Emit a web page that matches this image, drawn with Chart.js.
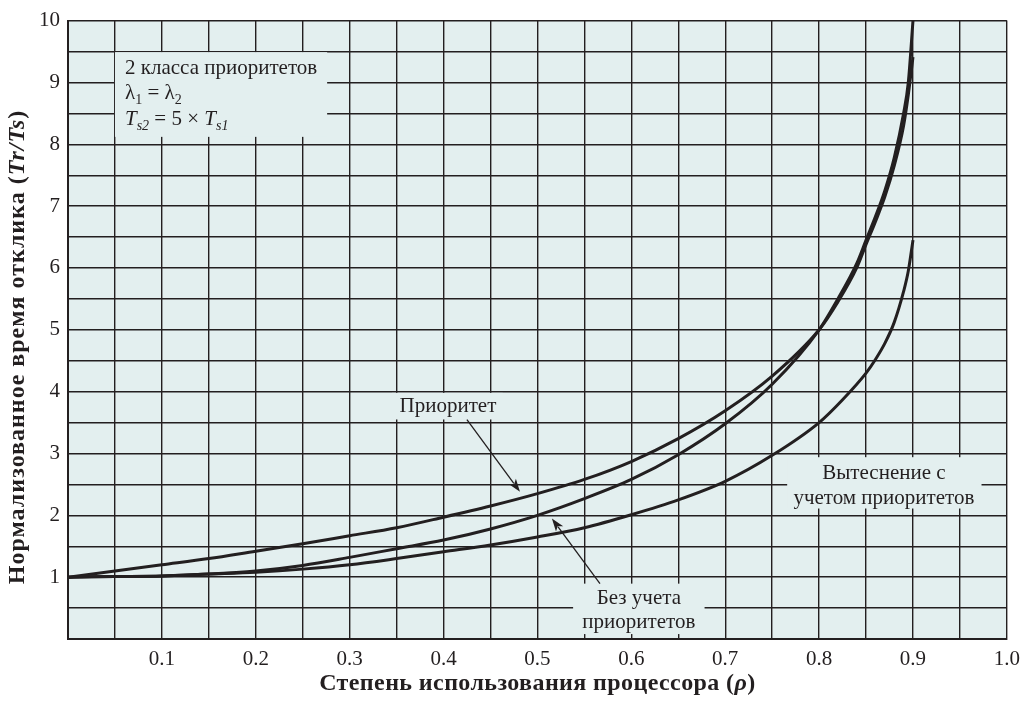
<!DOCTYPE html>
<html><head><meta charset="utf-8">
<script src="https://cdn.jsdelivr.net/npm/chart.js@4/dist/chart.umd.min.js"></script>
<style>html,body{margin:0;padding:0;background:#fff}#wrap{width:1028px;height:703px}</style>
</head><body><div id="wrap"><canvas id="c" width="1028" height="703"></canvas></div>
<script>
// Utilisation (rho) and normalised response time Tr/Ts
const priorityRho = [0,0.05,0.1,0.15,0.2,0.25,0.3,0.35,0.4,0.45,0.5,0.55,0.6,0.65,0.7,0.75,0.8,0.82,0.84,0.85,0.86,0.87,0.88,0.89,0.895,0.9];
const priorityVal = [1,1.10,1.20,1.30,1.42,1.54,1.67,1.80,1.97,2.15,2.35,2.58,2.87,3.24,3.69,4.25,5.0,5.45,6.0,6.38,6.75,7.15,7.65,8.3,8.8,9.41];
const noPriorityRho = [0,0.05,0.1,0.15,0.2,0.25,0.3,0.35,0.4,0.45,0.5,0.55,0.6,0.65,0.7,0.75,0.8,0.82,0.84,0.85,0.86,0.87,0.88,0.89,0.895,0.9];
const noPriorityVal = [1,1.01,1.02,1.05,1.10,1.19,1.32,1.46,1.60,1.78,2.0,2.27,2.58,2.98,3.48,4.12,5.0,5.5,6.07,6.45,6.83,7.25,7.78,8.5,9.0,10];
const preemptRho = [0,0.05,0.1,0.15,0.2,0.25,0.3,0.35,0.4,0.45,0.5,0.55,0.6,0.65,0.7,0.75,0.8,0.825,0.85,0.86,0.87,0.88,0.89,0.895,0.9];
const preemptVal = [1,1.01,1.02,1.05,1.08,1.13,1.20,1.30,1.41,1.52,1.65,1.80,2.01,2.25,2.55,2.97,3.5,3.87,4.3,4.52,4.78,5.12,5.62,5.95,6.45];
const xTickLabels = ['0.1','0.2','0.3','0.4','0.5','0.6','0.7','0.8','0.9','1.0'];
const yTickLabels = ['1','2','3','4','5','6','7','8','9','10'];

const INK = '#231f20';
const BG = '#e3efef';
const SERIF = '"Liberation Serif", "Times New Roman", serif';

function pts(xs, ys){ return xs.map((x,i)=>({x:x, y:ys[i]})); }
function ds(label, xs, ys){
  return {label, data: pts(xs, ys), showLine:true, borderColor:INK, borderWidth:3,
    pointRadius:0, fill:false, cubicInterpolationMode:'monotone', borderCapStyle:'butt'};
}

function richWidth(ctx, segs){
  let w=0; for(const s of segs){ ctx.font=s.f; w+=ctx.measureText(s.t).width; } return w;
}
function drawRich(ctx, segs, x, y, align){
  let w = richWidth(ctx, segs);
  let cx = align==='center' ? x - w/2 : x;
  for(const s of segs){ ctx.font=s.f; ctx.fillText(s.t, cx, y + (s.dy||0)); cx += ctx.measureText(s.t).width; }
}
function arrow(ctx, x0,y0,x1,y1){
  const a = Math.atan2(y1-y0, x1-x0), L=13, W=4.5;
  ctx.save(); ctx.strokeStyle=INK; ctx.fillStyle=INK; ctx.lineWidth=1.3;
  ctx.beginPath(); ctx.moveTo(x0,y0); ctx.lineTo(x1 - Math.cos(a)*L*0.8, y1 - Math.sin(a)*L*0.8); ctx.stroke();
  ctx.beginPath(); ctx.moveTo(x1,y1);
  ctx.lineTo(x1 - Math.cos(a)*L - Math.sin(a)*W, y1 - Math.sin(a)*L + Math.cos(a)*W);
  ctx.lineTo(x1 - Math.cos(a)*L*0.75, y1 - Math.sin(a)*L*0.75);
  ctx.lineTo(x1 - Math.cos(a)*L + Math.sin(a)*W, y1 - Math.sin(a)*L - Math.cos(a)*W);
  ctx.closePath(); ctx.fill(); ctx.restore();
}

// label boxes in data units
const boxes = [
  {x0:0.050, x1:0.276, y0:9.49, y1:8.12},
  {x0:0.345, x1:0.463, y0:3.98, y1:3.55},
  {x0:0.538, x1:0.678, y0:0.895, y1:0.08},
  {x0:0.766, x1:0.973, y0:2.94, y1:2.11}
];

const plugin = {
  id:'deco',
  beforeDraw(chart){
    const {ctx, chartArea:a} = chart;
    ctx.save(); ctx.fillStyle=BG; ctx.fillRect(a.left, a.top, a.right-a.left, a.bottom-a.top); ctx.restore();
  },
  beforeDatasetsDraw(chart){
    const {ctx} = chart, xs=chart.scales.x, ys=chart.scales.y;
    ctx.save(); ctx.fillStyle=BG;
    for(const b of boxes){
      const l=xs.getPixelForValue(b.x0), r=xs.getPixelForValue(b.x1);
      const t=ys.getPixelForValue(b.y0), bt=ys.getPixelForValue(b.y1);
      ctx.fillRect(l,t,r-l,bt-t);
    }
    ctx.restore();
  },
  afterDatasetsDraw(chart){
    const {ctx} = chart, xs=chart.scales.x, ys=chart.scales.y;
    const X=v=>xs.getPixelForValue(v), Y=v=>ys.getPixelForValue(v);
    const R='21px '+SERIF, S='14px '+SERIF, I='italic 21px '+SERIF, IS='italic 14px '+SERIF;
    ctx.save(); ctx.fillStyle=INK; ctx.textBaseline='alphabetic';
    drawRich(ctx, [{t:'2 класса приоритетов', f:R}], X(0.0607), Y(9.14), 'left');
    drawRich(ctx, [{t:'λ', f:R},{t:'1', f:S, dy:5},{t:' = λ', f:R},{t:'2', f:S, dy:5}], X(0.0607), Y(8.74), 'left');
    drawRich(ctx, [{t:'T', f:I},{t:'s2', f:IS, dy:5},{t:' = 5 × ', f:R},{t:'T', f:I},{t:'s1', f:IS, dy:5}], X(0.0607), Y(8.31), 'left');
    ctx.textBaseline='middle';
    drawRich(ctx, [{t:'Приоритет', f:R}], X(0.4047), Y(3.754), 'center');
    drawRich(ctx, [{t:'Без учета', f:R}], X(0.608), Y(0.655), 'center');
    drawRich(ctx, [{t:'приоритетов', f:R}], X(0.608), Y(0.27), 'center');
    drawRich(ctx, [{t:'Вытеснение с', f:R}], X(0.869), Y(2.68), 'center');
    drawRich(ctx, [{t:'учетом приоритетов', f:R}], X(0.869), Y(2.27), 'center');
    ctx.restore();
    arrow(ctx, X(0.4249), Y(3.546), X(0.4814), Y(2.38));
    arrow(ctx, X(0.5666), Y(0.895), X(0.5154), Y(1.949));
  },
  afterDraw(chart){
    const {ctx, chartArea:a} = chart;
    const B='bold 24px '+SERIF, BI='italic bold 24px '+SERIF;
    ctx.save(); ctx.fillStyle=INK; ctx.textBaseline='middle';
    ctx.letterSpacing='0.4px';
    drawRich(ctx, [{t:'Степень использования процессора (', f:B},{t:'ρ', f:BI},{t:')', f:B}], (a.left+a.right)/2, 684, 'center');
    ctx.letterSpacing='1px';
    ctx.translate(18, 347);
    ctx.rotate(-Math.PI/2);
    drawRich(ctx, [{t:'Нормализованное время отклика (', f:B},{t:'Tr/Ts', f:BI},{t:')', f:B}], 0, 0, 'center');
    ctx.restore();
  }
};

new Chart(document.getElementById('c'), {
  type:'scatter',
  data:{ datasets:[
    ds('Приоритет', priorityRho, priorityVal),
    ds('Без учета приоритетов', noPriorityRho, noPriorityVal),
    ds('Вытеснение с учетом приоритетов', preemptRho, preemptVal)
  ]},
  options:{
    responsive:false, animation:false, devicePixelRatio:1,
    layout:{padding:{left:0, right:21, top:13, bottom:0}},
    plugins:{legend:{display:false}, tooltip:{enabled:false}},
    scales:{
      x:{ type:'linear', min:0, max:1,
        afterFit:s=>{s.height=64;},
        grid:{color:INK, lineWidth:1.4, drawTicks:false},
        border:{display:true, color:INK, width:2},
        ticks:{ stepSize:0.05, autoSkip:false, maxRotation:0, padding:8, color:INK,
          font:{family:SERIF, size:21},
          callback:(v)=>{ const k=Math.round(v*20); return (k%2===0 && k>0) ? xTickLabels[k/2-1] : ''; } }
      },
      y:{ type:'linear', min:0, max:10,
        afterFit:s=>{s.width=68;},
        grid:{color:INK, lineWidth:1.4, drawTicks:false},
        border:{display:true, color:INK, width:2},
        ticks:{ stepSize:0.5, autoSkip:false, padding:8, color:INK,
          font:{family:SERIF, size:21},
          callback:(v)=>{ const k=Math.round(v*2); return (k%2===0 && k>0) ? yTickLabels[k/2-1] : ''; } }
      }
    }
  },
  plugins:[plugin]
});
</script></body></html>
